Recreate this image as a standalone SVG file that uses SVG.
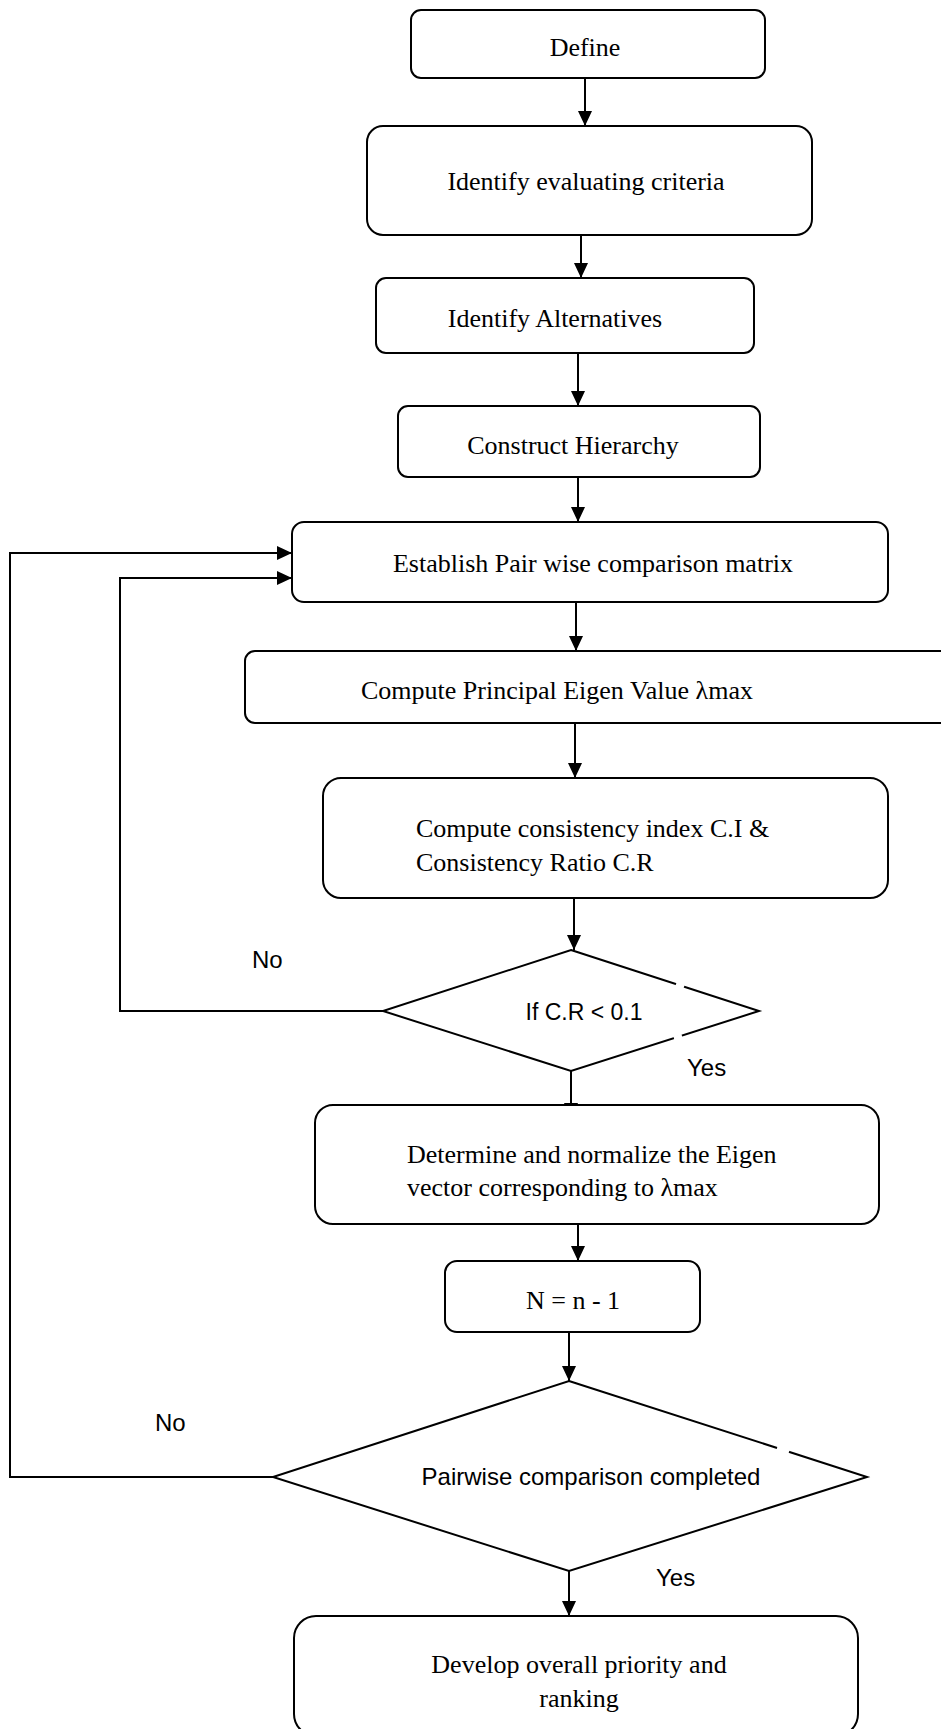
<svg xmlns="http://www.w3.org/2000/svg" width="941" height="1729" viewBox="0 0 941 1729">
<style>
.box{fill:#fff;stroke:#000;stroke-width:2}
.dia{fill:#fff;stroke:#000;stroke-width:2}
.t{font-family:"Liberation Serif","Times New Roman",serif;font-size:26px;fill:#000}
.s{font-family:"Liberation Sans",Arial,sans-serif;font-size:23px;fill:#000}
.c{text-anchor:middle}
.ln{fill:none;stroke:#000;stroke-width:2}
</style>
<defs>
<marker id="ah" markerUnits="userSpaceOnUse" markerWidth="15" markerHeight="14" refX="15" refY="7" orient="auto">
<path d="M0,0 L15,7 L0,14 z" fill="#000"/>
</marker>
</defs>
<rect width="941" height="1729" fill="#fff"/>
<g id="connectors">
<line class="ln" x1="585" y1="78" x2="585" y2="126" marker-end="url(#ah)"/>
<line class="ln" x1="581" y1="233" x2="581" y2="278" marker-end="url(#ah)"/>
<line class="ln" x1="578" y1="353" x2="578" y2="406" marker-end="url(#ah)"/>
<line class="ln" x1="578" y1="477" x2="578" y2="522" marker-end="url(#ah)"/>
<line class="ln" x1="576" y1="602" x2="576" y2="651" marker-end="url(#ah)"/>
<line class="ln" x1="575" y1="723" x2="575" y2="778" marker-end="url(#ah)"/>
<line class="ln" x1="574" y1="898" x2="574" y2="950" marker-end="url(#ah)"/>
<line class="ln" x1="571" y1="1071" x2="571" y2="1118" marker-end="url(#ah)"/>
<line class="ln" x1="578" y1="1224" x2="578" y2="1261" marker-end="url(#ah)"/>
<line class="ln" x1="569" y1="1332" x2="569" y2="1381" marker-end="url(#ah)"/>
<line class="ln" x1="569" y1="1571" x2="569" y2="1616" marker-end="url(#ah)"/>
<polyline class="ln" points="383,1011 120,1011 120,578 292,578" marker-end="url(#ah)"/>
<polyline class="ln" points="273,1477 10,1477 10,553 292,553" marker-end="url(#ah)"/>
</g>
<g id="n-define">
<rect class="box" x="411" y="10" width="354" height="68" rx="10"/>
<text class="t c" x="585" y="56">Define</text>
</g>
<g id="n-criteria">
<rect class="box" x="367" y="126" width="445" height="109" rx="16"/>
<text class="t c" x="586" y="190">Identify evaluating criteria</text>
</g>
<g id="n-alternatives">
<rect class="box" x="376" y="278" width="378" height="75" rx="10"/>
<text class="t c" x="555" y="327">Identify Alternatives</text>
</g>
<g id="n-hierarchy">
<rect class="box" x="398" y="406" width="362" height="71" rx="10"/>
<text class="t c" x="573" y="454">Construct Hierarchy</text>
</g>
<g id="n-establish">
<rect class="box" x="292" y="522" width="596" height="80" rx="12"/>
<text class="t c" x="593" y="572">Establish Pair wise comparison matrix</text>
</g>
<g id="n-principal">
<rect class="box" x="245" y="651" width="720" height="72" rx="10"/>
<text class="t c" x="557" y="699">Compute Principal Eigen Value λmax</text>
</g>
<g id="n-consistency">
<rect class="box" x="323" y="778" width="565" height="120" rx="18"/>
<text class="t" x="416" y="837">Compute consistency index C.I &amp;</text>
<text class="t" x="416" y="871">Consistency Ratio C.R</text>
</g>
<g id="n-check-cr">
<polygon class="dia" points="571,950 759,1011 571,1071 383,1011"/>
<line x1="676" y1="984.2" x2="684" y2="986.8" stroke="#fff" stroke-width="4"/>
<line x1="674" y1="1038.5" x2="682" y2="1036" stroke="#fff" stroke-width="4"/>
<text class="s c" x="584" y="1020">If C.R &lt; 0.1</text>
</g>
<g id="n-eigenvector">
<rect class="box" x="315" y="1105" width="564" height="119" rx="18"/>
<text class="t" x="407" y="1163">Determine and normalize the Eigen</text>
<text class="t" x="407" y="1196">vector corresponding to λmax</text>
</g>
<g id="n-decrement">
<rect class="box" x="445" y="1261" width="255" height="71" rx="12"/>
<text class="t c" x="573" y="1309">N = n - 1</text>
</g>
<g id="n-check-complete">
<polygon class="dia" points="569,1381 867,1477 569,1571 273,1477"/>
<line x1="777" y1="1448" x2="789" y2="1451.9" stroke="#fff" stroke-width="4"/>
<text class="s c" x="591" y="1485" style="font-size:24px">Pairwise comparison completed</text>
</g>
<g id="n-develop">
<rect class="box" x="294" y="1616" width="564" height="120" rx="22"/>
<text class="t c" x="579" y="1673">Develop overall priority and</text>
<text class="t c" x="579" y="1707">ranking</text>
</g>
<g id="labels">
<text class="s" x="252" y="968" style="font-size:24px">No</text>
<text class="s" x="687" y="1076" style="font-size:24px">Yes</text>
<text class="s" x="155" y="1431" style="font-size:24px">No</text>
<text class="s" x="656" y="1586" style="font-size:24px">Yes</text>
</g>
</svg>
